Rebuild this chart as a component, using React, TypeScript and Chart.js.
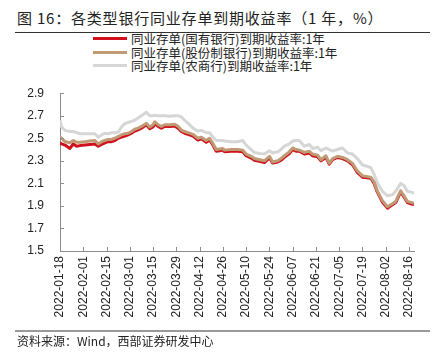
import { useEffect, useRef } from "react";
import { Chart, registerables } from "chart.js";

Chart.register(...registerables);

const startDate = "2022-01-18";
const tickLabels = [
  "2022-01-18", "2022-02-01", "2022-02-15", "2022-03-01", "2022-03-15", "2022-03-29",
  "2022-04-12", "2022-04-26", "2022-05-10", "2022-05-24", "2022-06-07", "2022-06-21",
  "2022-07-05", "2022-07-19", "2022-08-02", "2022-08-16",
];
const yTicks = [1.5, 1.7, 1.9, 2.1, 2.3, 2.5, 2.7, 2.9];
const lastDay = 213;

// days after 2022-01-18
const dayOffsets = [
  0, 1, 3, 6, 8, 10, 12, 15, 18, 21, 23, 25, 27, 29, 31, 33, 35, 37, 39, 41,
  43, 45, 47, 49, 52, 54, 56, 57, 59, 61, 63, 66, 69, 71, 73, 75, 77, 80, 83, 85,
  88, 90, 92, 94, 96, 98, 99, 103, 107, 110, 112, 115, 117, 120, 123, 126, 128, 131, 133, 135,
  138, 140, 142, 144, 147, 150, 152, 155, 157, 160, 162, 164, 167, 170, 173, 176, 179, 182, 185, 187,
  189, 191, 194, 197, 200, 202, 205, 207, 209, 212, 213,
];
const stateOwned = [
  2.46, 2.45, 2.44, 2.41, 2.45, 2.43, 2.435, 2.44, 2.445, 2.45, 2.43, 2.445, 2.46, 2.47, 2.47, 2.48, 2.5, 2.51, 2.52, 2.53,
  2.545, 2.565, 2.575, 2.59, 2.62, 2.585, 2.6, 2.63, 2.605, 2.59, 2.605, 2.605, 2.61, 2.59, 2.56, 2.545, 2.535, 2.52, 2.485, 2.495,
  2.465, 2.485, 2.44, 2.385, 2.39, 2.395, 2.38, 2.385, 2.385, 2.38, 2.345, 2.325, 2.305, 2.295, 2.285, 2.325, 2.28, 2.29, 2.305, 2.33,
  2.365, 2.4, 2.385, 2.385, 2.36, 2.37, 2.345, 2.335, 2.3, 2.33, 2.27, 2.31, 2.33, 2.32, 2.3, 2.265, 2.195, 2.155, 2.15, 2.145,
  2.1, 2.02, 1.935, 1.88, 1.91, 1.93, 2.025, 1.98, 1.93, 1.915, 1.915,
];
const jointStock = [
  2.51, 2.5, 2.47, 2.46, 2.48, 2.465, 2.465, 2.47, 2.475, 2.48, 2.45, 2.47, 2.48, 2.49, 2.49, 2.5, 2.515, 2.53, 2.54, 2.545,
  2.56, 2.58, 2.59, 2.605, 2.634, 2.6, 2.62, 2.647, 2.62, 2.605, 2.62, 2.62, 2.625, 2.606, 2.573, 2.56, 2.55, 2.535, 2.5, 2.51,
  2.48, 2.5, 2.455, 2.4, 2.405, 2.41, 2.395, 2.4, 2.4, 2.395, 2.36, 2.34, 2.32, 2.31, 2.3, 2.34, 2.29, 2.3, 2.32, 2.345,
  2.38, 2.414, 2.4, 2.395, 2.375, 2.385, 2.36, 2.35, 2.31, 2.345, 2.28, 2.32, 2.34, 2.33, 2.31, 2.277, 2.208, 2.167, 2.16, 2.155,
  2.112, 2.03, 1.947, 1.893, 1.92, 1.94, 2.035, 1.99, 1.94, 1.928, 1.925,
];
const ruralCommercial = [
  2.66, 2.6, 2.57, 2.56, 2.56, 2.55, 2.54, 2.54, 2.54, 2.54, 2.51, 2.53, 2.545, 2.54, 2.55, 2.55, 2.555, 2.6, 2.63, 2.64,
  2.65, 2.66, 2.68, 2.7, 2.73, 2.7, 2.7, 2.705, 2.7, 2.7, 2.7, 2.695, 2.7, 2.7, 2.69, 2.66, 2.634, 2.59, 2.565, 2.57,
  2.55, 2.55, 2.51, 2.48, 2.48, 2.48, 2.475, 2.47, 2.47, 2.48, 2.44, 2.4, 2.373, 2.365, 2.36, 2.39, 2.37, 2.38, 2.4, 2.43,
  2.45, 2.475, 2.48, 2.48, 2.43, 2.445, 2.41, 2.42, 2.39, 2.414, 2.4, 2.387, 2.4, 2.414, 2.37, 2.36, 2.318, 2.263, 2.25, 2.24,
  2.18, 2.1, 2.03, 1.99, 2.0, 2.03, 2.1, 2.08, 2.03, 2.02, 2.01,
];

const seriesNames = [
  "同业存单(国有银行)到期收益率:1年",
  "同业存单(股份制银行)到期收益率:1年",
  "同业存单(农商行)到期收益率:1年",
];
const seriesColors = ["#D0101C", "#BF9A75", "#D6D6D6"];

const DAY = 86400000;
const dayOf = (d: string) => Math.round((Date.parse(d) - Date.parse(startDate)) / DAY);

const toPoints = (vals: number[]) => vals.map((v, i) => ({ x: dayOffsets[i], y: v }));

const innerTicks = {
  id: "innerTicks",
  afterDraw(chart: any) {
    const { ctx, chartArea, scales } = chart;
    ctx.save();
    ctx.strokeStyle = "#8c8c8c";
    ctx.lineWidth = 1;
    ctx.beginPath();
    yTicks.forEach((t) => {
      const y = Math.round(scales.y.getPixelForValue(t)) + 0.5;
      ctx.moveTo(chartArea.left, y);
      ctx.lineTo(chartArea.left + 4, y);
    });
    tickLabels.forEach((l) => {
      const x = Math.round(scales.x.getPixelForValue(dayOf(l))) + 0.5;
      ctx.moveTo(x, chartArea.bottom);
      ctx.lineTo(x, chartArea.bottom - 4);
    });
    ctx.stroke();
    ctx.restore();
  },
};

function ChartBox() {
  const ref = useRef<HTMLCanvasElement | null>(null);
  useEffect(() => {
    if (!ref.current) return;
    const chart = new Chart(ref.current, {
      type: "line",
      data: {
        datasets: [
          { label: seriesNames[0], data: toPoints(stateOwned), borderColor: seriesColors[0], order: 1 },
          { label: seriesNames[1], data: toPoints(jointStock), borderColor: seriesColors[1], order: 0 },
          { label: seriesNames[2], data: toPoints(ruralCommercial), borderColor: seriesColors[2], order: 2 },
        ].map((d) => ({
          ...d,
          borderWidth: 3,
          pointRadius: 0,
          tension: 0,
          fill: false,
          borderJoinStyle: "round" as const,
        })),
      },
      options: {
        animation: false,
        responsive: false,
        maintainAspectRatio: false,
        layout: { padding: { top: 11, right: 29, left: 0, bottom: 0 } },
        plugins: { legend: { display: false }, tooltip: { enabled: false } },
        scales: {
          x: {
            type: "linear",
            min: 0,
            max: lastDay,
            grid: { display: false, drawTicks: false },
            border: { display: true, color: "#8c8c8c", width: 1 },
            afterBuildTicks: (s: any) => {
              s.ticks = tickLabels.map((l) => ({ value: dayOf(l) }));
            },
            afterFit: (s: any) => {
              s.height = 81;
            },
            ticks: {
              autoSkip: false,
              minRotation: 90,
              maxRotation: 90,
              padding: 5,
              color: "#222",
              font: { size: 12, family: "'Liberation Sans', Arial, sans-serif" },
              callback: (v: any) => {
                const i = tickLabels.findIndex((l) => dayOf(l) === v);
                return i >= 0 ? tickLabels[i] : "";
              },
            },
          },
          y: {
            type: "linear",
            min: 1.5,
            max: 2.9,
            grid: { display: false, drawTicks: false },
            border: { display: true, color: "#8c8c8c", width: 1 },
            afterBuildTicks: (s: any) => {
              s.ticks = yTicks.map((v) => ({ value: v }));
            },
            afterFit: (s: any) => {
              s.width = 60;
            },
            ticks: {
              padding: 16,
              color: "#222",
              font: { size: 12, family: "'Liberation Sans', Arial, sans-serif" },
              callback: (v: any) => Number(v).toFixed(1),
            },
          },
        },
      },
      plugins: [innerTicks],
    });
    return () => chart.destroy();
  }, []);
  return <canvas ref={ref} width={443} height={262} style={{ width: 443, height: 262, display: "block" }} />;
}

export default function App() {
  const cjk = "'Noto Sans CJK SC', 'Liberation Sans', sans-serif";
  return (
    <div style={{ position: "fixed", left: 0, top: 0, width: 443, height: 363, background: "#fff", fontFamily: cjk }}>
      <div style={{ position: "absolute", left: 17, top: 7, fontSize: 15, letterSpacing: 0.8, color: "#222", whiteSpace: "nowrap", lineHeight: "22px" }}>
        图 16：各类型银行同业存单到期收益率（1 年，%）
      </div>
      <div style={{ position: "absolute", left: 15, top: 32, width: 415, height: 1, background: "#333" }} />
      <div style={{ position: "absolute", left: 93, top: 32 }}>
        {seriesNames.map((n, i) => (
          <div key={n} style={{ display: "flex", alignItems: "center", height: 13.5 }}>
            <div style={{ width: 34, height: 3, background: seriesColors[i], marginRight: 4 }} />
            <span style={{ fontSize: 12.5, color: "#222", whiteSpace: "nowrap", lineHeight: "13.5px" }}>{n}</span>
          </div>
        ))}
      </div>
      <div style={{ position: "absolute", left: 0, top: 70 }}>
        <ChartBox />
      </div>
      <div style={{ position: "absolute", left: 15, top: 330, width: 415, height: 2, background: "#999" }} />
      <div style={{ position: "absolute", left: 17, top: 333, fontSize: 12, color: "#222", whiteSpace: "nowrap", lineHeight: "16px" }}>
        资料来源：Wind，西部证券研发中心
      </div>
    </div>
  );
}
